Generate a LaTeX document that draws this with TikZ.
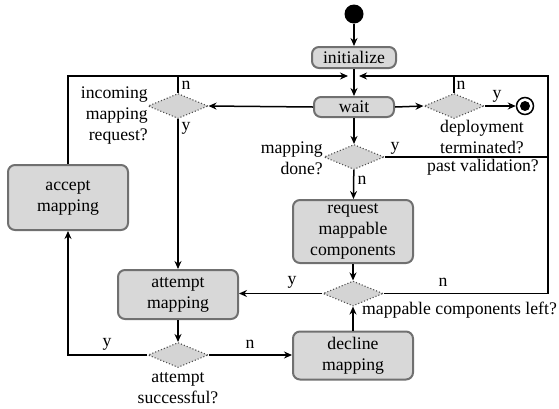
\documentclass[tikz,border=0pt]{standalone}
\usepackage{fontspec}
\setmainfont{Liberation Serif}
\usetikzlibrary{arrows.meta,positioning,shapes.geometric}
\definecolor{actfill}{RGB}{216,216,216}
\definecolor{actedge}{RGB}{112,112,112}
\definecolor{decfill}{RGB}{212,212,212}
\definecolor{decedge}{RGB}{80,80,80}
\tikzset{
  act/.style={draw=actedge, fill=actfill, line width=2pt, rounded corners=7pt,
              align=center, inner sep=0pt, font=\fontsize{17.7}{21}\selectfont},
  dec/.style={diamond, draw=decedge, fill=decfill, dotted, line width=1.1pt,
              minimum width=60pt, minimum height=25pt, inner sep=0pt},
  flow/.style={-{Stealth[length=8pt,width=7pt]}, line width=1.5pt},
  wire/.style={line width=1.5pt},
  txt/.style={inner sep=0pt, font=\fontsize{17.7}{21}\selectfont},
  yn/.style={inner sep=0pt, font=\fontsize{17.7}{21}\selectfont},
}
\begin{document}
\begin{tikzpicture}[x=1pt, y=-1pt]
    \useasboundingbox (0,0) rectangle (559,408);
    % --- activities
    \node[circle, fill=black, minimum size=19pt, inner sep=0pt] (start) at (354,14) {};
    \node[act, minimum width=84pt, minimum height=21pt] (init) at (354,57.5) {initialize};
    \node[act, minimum width=80pt, minimum height=20pt] (wait) at (354,107) {wait};
    \node[act, minimum width=120pt, minimum height=63pt] (request) at (353,231.5) {request\\mappable\\components};
    \node[act, minimum width=120pt, minimum height=48pt] (decline) at (353,355.5) {decline\\mapping};
    \node[act, minimum width=120pt, minimum height=49pt] (attempt) at (178,294.5) {attempt\\mapping};
    \node[act, minimum width=120pt, minimum height=65pt] (accept) at (68,197.5) {accept\\mapping};
    \node[circle, draw, line width=1.5pt, minimum size=17pt, inner sep=0pt] (final) at (525,106) {};
    \fill (final.center) circle (5pt);
    % --- decisions
    \node[dec] (incoming) at (178,106) {};
    \node[dec] (deploy) at (454,106) {};
    \node[dec] (done) at (354,157) {};
    \node[dec] (left) at (353,293.5) {};
    \node[dec] (success) at (178,355) {};
    % --- loop joints
    \coordinate (ljoin) at (348,76);
    \coordinate (rjoin) at (359,76);
    \coordinate (rcorner) at (548,76);
    % --- flows
    \draw[flow] (start) -- (init);
    \draw[flow] (init) -- (wait);
    \draw[flow] (wait.west) -- (incoming.east);
    \draw[flow] (wait.east) -- (deploy.west);
    \draw[flow] (deploy.east) -- (final.west);
    \draw[flow] (wait) -- (done);
    \draw[flow] (done) -- (request);
    \draw[flow] (request) -- (left);
    \draw[flow] (decline) -- (left);
    \draw[flow] (left.west) -- (left.west -| attempt.east);
    \draw[flow] (incoming) -- (attempt);
    \draw[flow] (attempt) -- (success);
    \draw[flow] (success.west) -| (accept.south);
    \draw[flow] (success.east) -- (success.east -| decline.west);
    \draw[flow] (accept.north) |- (ljoin);
    \draw[wire] (incoming.north) -- (incoming.north |- ljoin);
    \draw[flow] (left.east) -| (rcorner) -- (rjoin);
    \draw[wire] (deploy.north) -- (deploy.north |- rcorner);
    \draw[wire] (done.east) -- (done.east -| rcorner);
    % --- guards
    \foreach \nm/\x/\y/\t in {incn/186/85/n, incy/186/128/y, depn/461/85/n, depy/497/96/y,
                              donen/362/180/n, doney/395/148/y, lefty/292/282/y, leftn/443/282/n,
                              succy/107/344/y, succn/250/344/n}
      \node[yn] (\nm) at (\x,\y) {\t};
    % --- questions
    \node[txt, anchor=east, align=right] (incq) at (148,116) {incoming\\mapping\\request?};
    \node[txt, align=center] (depq) at (482,137) {deployment\\terminated?};
    \node[txt, anchor=east, align=right] (doneq) at (323,158) {mapping\\done?};
    \node[txt] (pastq) at (483,167) {past validation?};
    \node[txt, anchor=west] (leftq) at (362,310) {mappable components left?};
    \node[txt, align=center] (succq) at (178,388) {attempt\\successful?};
\end{tikzpicture}
\end{document}
